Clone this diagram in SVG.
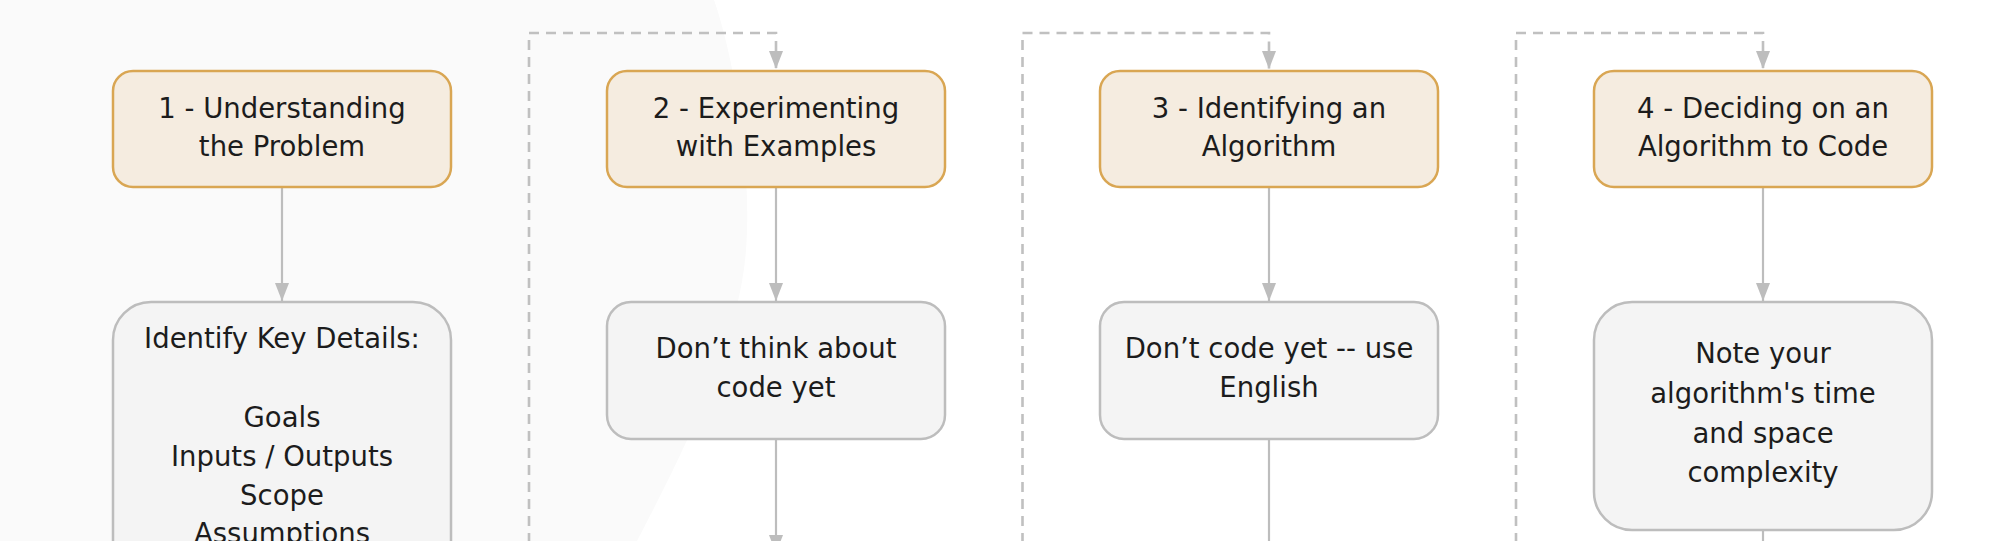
<svg xmlns="http://www.w3.org/2000/svg" width="2000" height="541" viewBox="0 0 2000 541">
  <defs>
    <style>
      .bg { fill: #fafafa; }
      .step { fill: #f5ece0; stroke: #d9a653; stroke-width: 2.5; }
      .note { fill: #f4f4f4; stroke: #bdbdbd; stroke-width: 2.5; }
      .label { font-family: "DejaVu Sans", "Liberation Sans", sans-serif; font-size: 27.5px; fill: #1c1c1c; text-anchor: middle; }
      .flow { fill: none; stroke: #bdbdbd; stroke-width: 2.2; }
      .loop { fill: none; stroke: #c0c0c0; stroke-width: 2.6; stroke-dasharray: 10 7; }
    </style>
    <marker id="arrow" markerUnits="userSpaceOnUse" markerWidth="18" markerHeight="14" refX="18" refY="7" orient="auto" viewBox="0 0 18 14">
      <path d="M0,0 L18,7 L0,14 z" fill="#bdbdbd"/>
    </marker>
  </defs>

  <rect width="2000" height="541" fill="#ffffff"/>
  <path class="bg" d="M0,0 L714,0 C735,60 752,170 746,250 C740,330 700,420 637,541 L0,541 Z"/>

  <g id="connectors">
    <!-- solid flow arrows -->
    <path class="flow" d="M282,187 V301" marker-end="url(#arrow)"/>
    <path class="flow" d="M776,187 V301" marker-end="url(#arrow)"/>
    <path class="flow" d="M1269,187 V301" marker-end="url(#arrow)"/>
    <path class="flow" d="M1763,187 V301" marker-end="url(#arrow)"/>
    <path class="flow" d="M776,439 V553" marker-end="url(#arrow)"/>
    <path class="flow" d="M1269,439 V580" marker-end="url(#arrow)"/>
    <path class="flow" d="M1763,530 V600" marker-end="url(#arrow)"/>
    <!-- dashed loop-back arrows -->
    <path class="loop" d="M529,560 V33 H776 V69" marker-end="url(#arrow)"/>
    <path class="loop" d="M1022.5,560 V33 H1269 V69" marker-end="url(#arrow)"/>
    <path class="loop" d="M1516,560 V33 H1763 V69" marker-end="url(#arrow)"/>
  </g>

  <g id="step1">
    <rect class="step" x="113" y="71" width="338" height="116" rx="20"/>
    <text class="label" x="282" y="117.5">1 - Understanding</text>
    <text class="label" x="282" y="156">the Problem</text>
  </g>
  <g id="note1">
    <rect class="note" x="113" y="302" width="338" height="300" rx="38"/>
    <text class="label" x="282" y="348.3">Identify Key Details:</text>
    <text class="label" x="282" y="426.7">Goals</text>
    <text class="label" x="282" y="465.5">Inputs / Outputs</text>
    <text class="label" x="282" y="504.5">Scope</text>
    <text class="label" x="282" y="543.3">Assumptions</text>
  </g>

  <g id="step2">
    <rect class="step" x="607" y="71" width="338" height="116" rx="20"/>
    <text class="label" x="776" y="117.5">2 - Experimenting</text>
    <text class="label" x="776" y="156">with Examples</text>
  </g>
  <g id="note2">
    <rect class="note" x="607" y="302" width="338" height="137" rx="24"/>
    <text class="label" x="776" y="358">Don’t think about</text>
    <text class="label" x="776" y="396.7">code yet</text>
  </g>

  <g id="step3">
    <rect class="step" x="1100" y="71" width="338" height="116" rx="20"/>
    <text class="label" x="1269" y="117.5">3 - Identifying an</text>
    <text class="label" x="1269" y="156">Algorithm</text>
  </g>
  <g id="note3">
    <rect class="note" x="1100" y="302" width="338" height="137" rx="24"/>
    <text class="label" x="1269" y="358">Don’t code yet -- use</text>
    <text class="label" x="1269" y="396.7">English</text>
  </g>

  <g id="step4">
    <rect class="step" x="1594" y="71" width="338" height="116" rx="20"/>
    <text class="label" x="1763" y="117.5">4 - Deciding on an</text>
    <text class="label" x="1763" y="156">Algorithm to Code</text>
  </g>
  <g id="note4">
    <rect class="note" x="1594" y="302" width="338" height="228" rx="38"/>
    <text class="label" x="1763" y="363.3">Note your</text>
    <text class="label" x="1763" y="403">algorithm's time</text>
    <text class="label" x="1763" y="442.5">and space</text>
    <text class="label" x="1763" y="481.7">complexity</text>
  </g>
</svg>
